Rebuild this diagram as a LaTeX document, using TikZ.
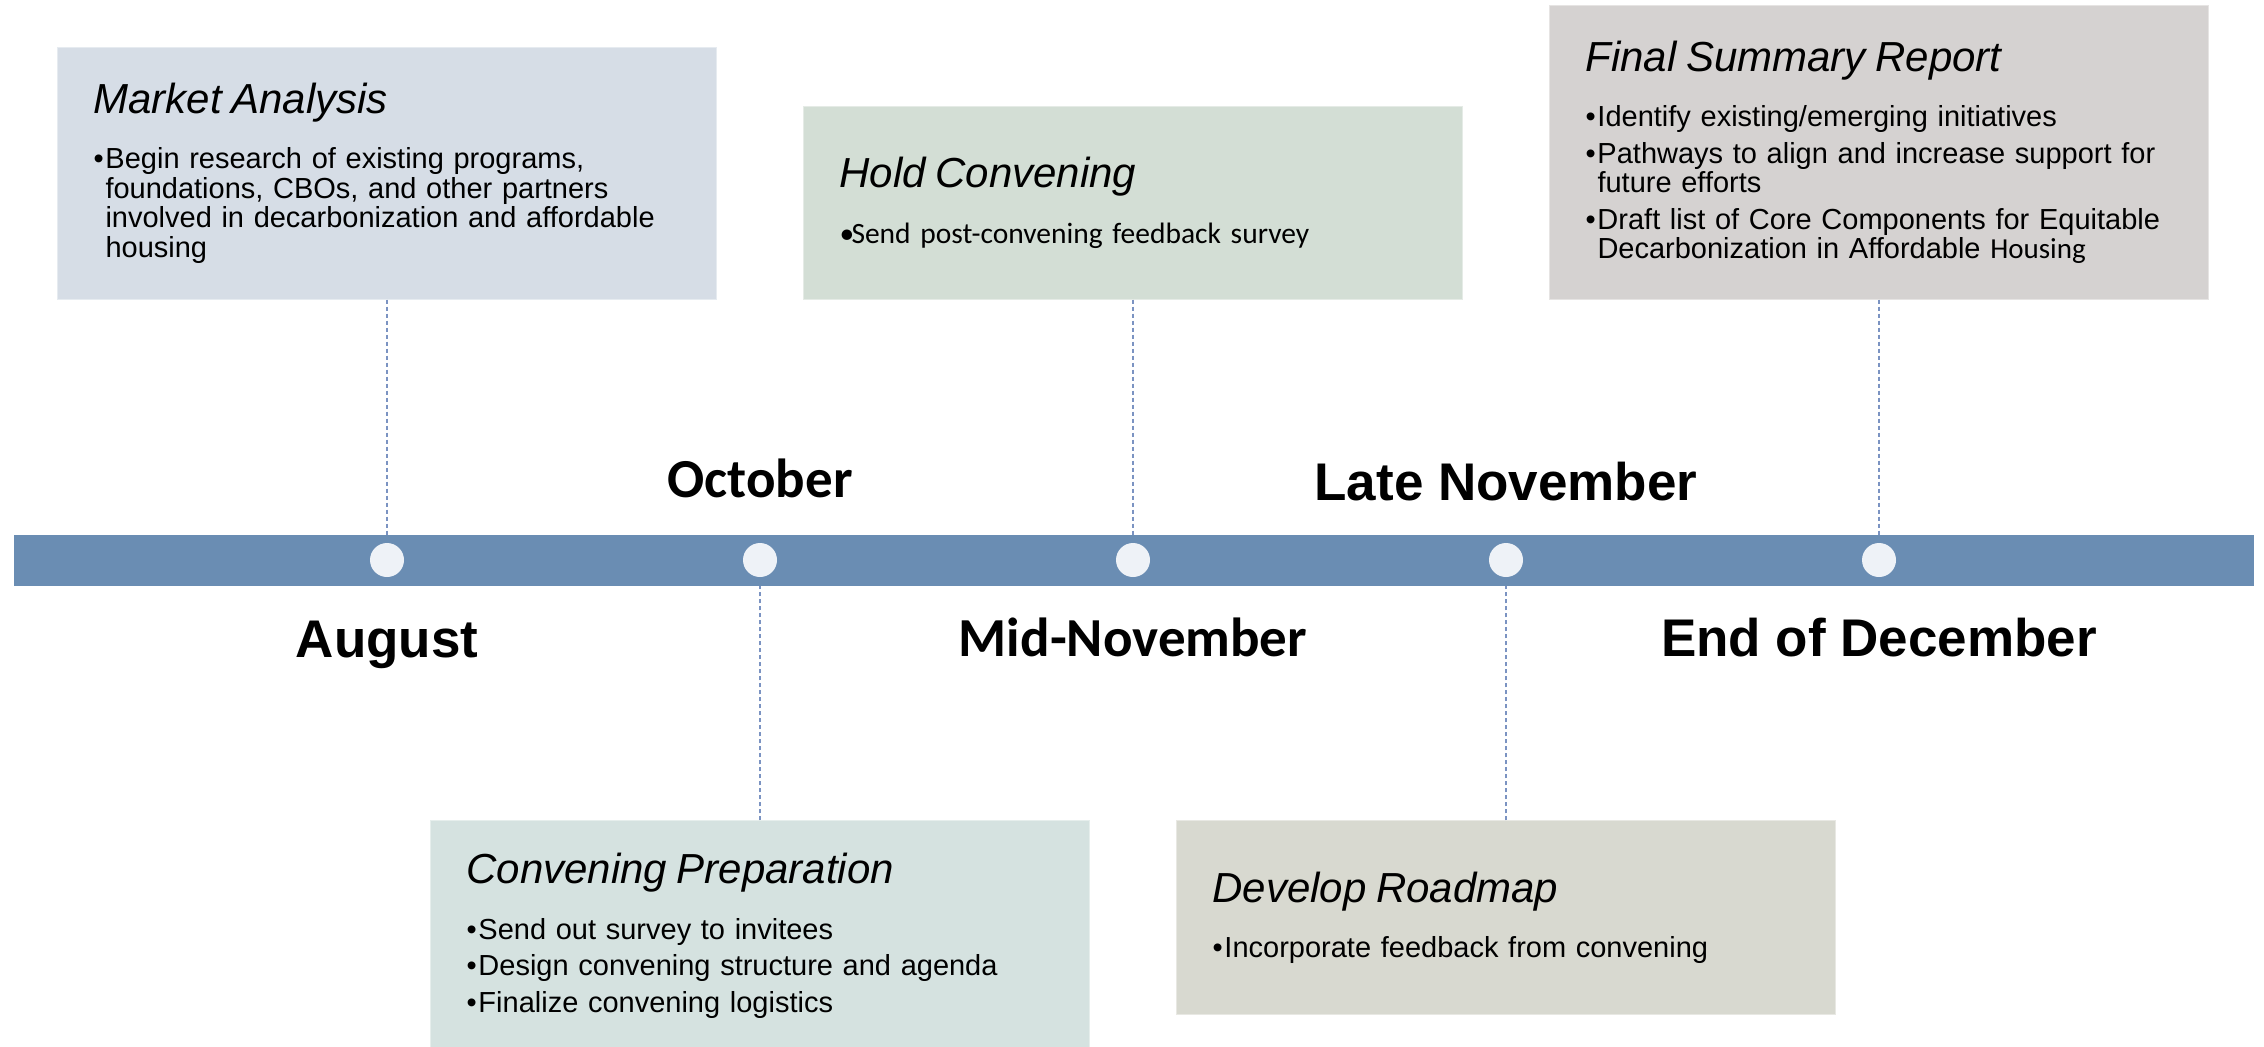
\documentclass[tikz,border=0pt]{standalone}
\usepackage{fontspec}
\setmainfont{Liberation Sans}
\newfontfamily\calfont{Carlito}
\usetikzlibrary{positioning}

\definecolor{barblue}{HTML}{6A8DB3}
\definecolor{dotfill}{HTML}{EEF2F7}
\definecolor{dashblue}{HTML}{7B93C2}
\definecolor{mktfill}{HTML}{D6DDE6}
\definecolor{holdfill}{HTML}{D3DED5}
\definecolor{finalfill}{HTML}{D5D2D1}
\definecolor{prepfill}{HTML}{D5E2E0}
\definecolor{roadfill}{HTML}{D8D9D0}

\newcommand{\boxhead}[1]{\vspace*{4pt}{\fontsize{21pt}{21pt}\selectfont\itshape #1\par}\vspace{5.5pt}}
\newcommand{\bitem}[1]{\par\vspace{3.5pt}\hangindent=6pt\hangafter=1\noindent\makebox[6pt][l]{\textbullet}#1\par}

\tikzset{
  node distance=186.5pt,
  dot/.style={circle, fill=dotfill, inner sep=0pt, minimum size=17pt},
  bar/.style={rectangle, fill=barblue, inner sep=0pt, minimum width=1120pt, minimum height=25.5pt},
  tlbox/.style={rectangle, draw=white!40!#1, fill=#1, line width=0.5pt, text width=293.5pt,
    inner xsep=18pt, inner ysep=0pt, align=left,
    font={\fontsize{14.5pt}{14.75pt}\selectfont\lineskiplimit=-\maxdimen}},
  datelbl/.style={font=\bfseries\fontsize{26.5pt}{26.5pt}\selectfont, inner sep=0pt, anchor=base},
  calbl/.style={datelbl, font=\calfont\bfseries\fontsize{27.5pt}{27.5pt}\selectfont},
  stem/.style={draw=dashblue, line width=0.6pt, dash pattern=on 2pt off 1.5pt},
}

\begin{document}
\begin{tikzpicture}[x=0.5pt, y=-0.5pt]
  \useasboundingbox (0,0) rectangle (2264,1046);

  % timeline
  \node[bar] (line) at (1134,560.5) {};
  \node[dot] (c1) at (387,560) {};
  \node[dot, right of=c1] (c2) {};
  \node[dot, right of=c2] (c3) {};
  \node[dot, right of=c3] (c4) {};
  \node[dot, right of=c4] (c5) {};

  % dates
  \node[datelbl] (aug) at ([yshift=-48.5pt]c1.center) {August};
  \node[calbl] (oct) at ([yshift=31.5pt]c2.center) {October};
  \node[calbl] (midnov) at ([yshift=-48pt]c3.center) {Mid-November};
  \node[datelbl] (latenov) at ([yshift=30pt]c4.center) {Late November};
  \node[datelbl] (enddec) at ([yshift=-48pt]c5.center) {End of December};

  % milestones
  \node[tlbox=mktfill, minimum height=126pt, above=121.5pt of c1] (mkt) {%
    \boxhead{Market Analysis}
    \bitem{Begin research of existing programs,\newline foundations, CBOs, and other partners\newline involved in decarbonization and affordable\newline housing}};
  \node[tlbox=prepfill, minimum height=115pt, below=121.5pt of c2] (prep) {%
    \boxhead{Convening Preparation}
    \bitem{Send out survey to invitees}
    \bitem{Design convening structure and agenda}
    \bitem{Finalize convening logistics}};
  \node[tlbox=holdfill, minimum height=96.5pt, above=121.5pt of c3] (hold) {%
    \boxhead{Hold Convening}
    {\calfont\fontsize{14.75pt}{14.75pt}\selectfont\bitem{Send post-convening feedback survey}}};
  \node[tlbox=roadfill, minimum height=97pt, below=121.5pt of c4] (road) {%
    \boxhead{Develop Roadmap}
    \bitem{Incorporate feedback from convening}};
  \node[tlbox=finalfill, minimum height=147pt, above=121.5pt of c5] (final) {%
    \boxhead{Final Summary Report}
    \bitem{Identify existing/emerging initiatives}
    \bitem{Pathways to align and increase support for\newline future efforts}
    \bitem{Draft list of Core Components for Equitable\newline Decarbonization in Affordable {\calfont Housing}}};

  % links
  \draw[stem] (mkt) -- (mkt |- line.north);
  \draw[stem] (hold) -- (hold |- line.north);
  \draw[stem] (final) -- (final |- line.north);
  \draw[stem] (prep) -- (prep |- line.south);
  \draw[stem] (road) -- (road |- line.south);

\end{tikzpicture}
\end{document}
